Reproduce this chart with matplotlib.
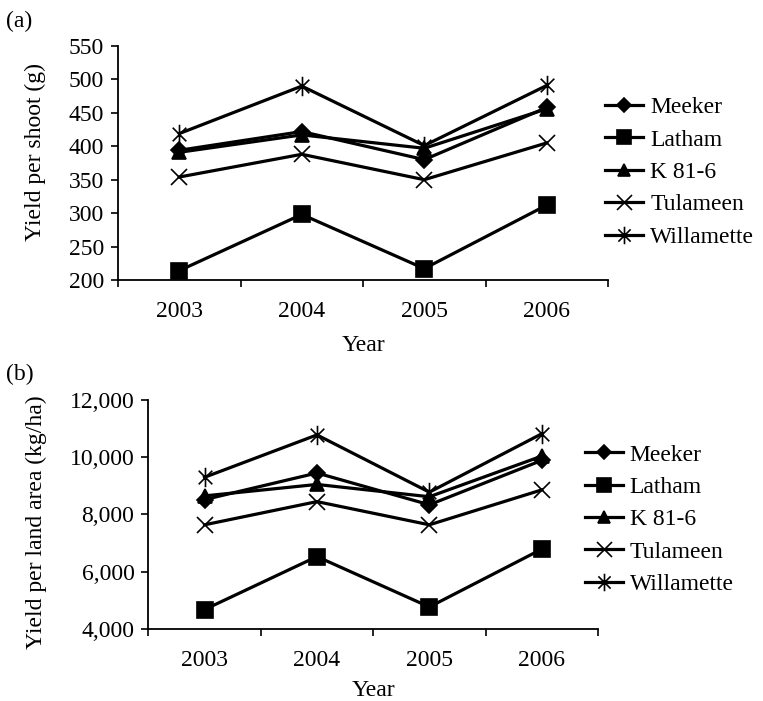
import matplotlib
matplotlib.use("Agg")
import matplotlib.pyplot as plt
from matplotlib.path import Path

plt.rcParams['font.family'] = ['Liberation Serif', 'DejaVu Serif']

years = ['2003', '2004', '2005', '2006']
varieties = ['Meeker', 'Latham', 'K 81-6', 'Tulameen', 'Willamette']

# (a) yield per shoot (g)
meeker_a = [394, 422, 380, 458]
latham_a = [214, 298, 217, 312]
k816_a = [391, 417, 397, 456]
tulameen_a = [354, 388, 350, 405]
willamette_a = [419, 490, 401, 491]

# (b) yield per land area (kg/ha)
meeker_b = [8520, 9450, 8340, 9890]
latham_b = [4680, 6530, 4770, 6790]
k816_b = [8650, 9050, 8620, 10040]
tulameen_b = [7640, 8450, 7640, 8860]
willamette_b = [9300, 10780, 8780, 10820]

# Excel-like star: x plus vertical bar
star = Path([(0, -1), (0, 1), (-0.7, -0.7), (0.7, 0.7), (-0.7, 0.7), (0.7, -0.7)],
            [Path.MOVETO, Path.LINETO] * 3)
markers = ['D', 's', '^', 'x', star]
msizes = [8, 11, 10, 12, 14]
FS = 17

fig = plt.figure(figsize=(7.63, 7.01), dpi=100)
ax_a = fig.add_axes([0.1547, 0.6006, 0.6422, 0.3338])
ax_b = fig.add_axes([0.1944, 0.1027, 0.5893, 0.3267])


def draw(ax, series, ylim, yticks, ylabel, fmt, ylab_xy, xlab_y, leg_xy):
    x = range(len(years))
    for vals, name, m, ms in zip(series, varieties, markers, msizes):
        ax.plot(x, vals, color='black', lw=2.3, marker=m, markersize=ms,
                markeredgewidth=1.2, markerfacecolor='black',
                markeredgecolor='black', label=name)
    ax.set_xlim(-0.5, len(years) - 0.5)
    ax.set_ylim(*ylim)
    ax.set_yticks(yticks)
    ax.set_yticklabels([fmt(v) for v in yticks])
    ax.set_xticks(list(x))
    ax.set_xticklabels(years)
    ax.set_xticks([i - 0.5 for i in range(len(years) + 1)], minor=True)
    ax.tick_params(axis='x', which='major', length=0, pad=15, labelsize=FS)
    ax.tick_params(axis='x', which='minor', length=5, width=1.2, direction='out')
    ax.tick_params(axis='y', length=5, width=1.2, direction='out', pad=5, labelsize=FS)
    for s in ['top', 'right']:
        ax.spines[s].set_visible(False)
    for s in ['left', 'bottom']:
        ax.spines[s].set_linewidth(1.3)
    ax.set_xlabel('Year', fontsize=FS)
    ax.set_ylabel(ylabel, fontsize=FS)
    ax.yaxis.set_label_coords(*ylab_xy)
    ax.xaxis.set_label_coords(0.5, xlab_y)
    ax.legend(loc='center left', bbox_to_anchor=leg_xy, frameon=False,
              fontsize=FS, handlelength=1.6, handletextpad=0.3,
              labelspacing=0.46, borderaxespad=0.0, markerscale=0.9)


draw(ax_a, [meeker_a, latham_a, k816_a, tulameen_a, willamette_a],
     (200, 550), range(200, 551, 50), 'Yield per shoot (g)', lambda v: f'{v}',
     (-0.148, 0.545), -0.235, (0.975, 0.46))
draw(ax_b, [meeker_b, latham_b, k816_b, tulameen_b, willamette_b],
     (4000, 12000), range(4000, 12001, 2000), 'Yield per land area (kg/ha)',
     lambda v: f'{v:,}', (-0.225, 0.467), -0.222, (0.950, 0.478))

fig.text(0.008, 0.962, '(a)', fontsize=FS)
fig.text(0.008, 0.458, '(b)', fontsize=FS)

fig.savefig('out.png', dpi=100)
